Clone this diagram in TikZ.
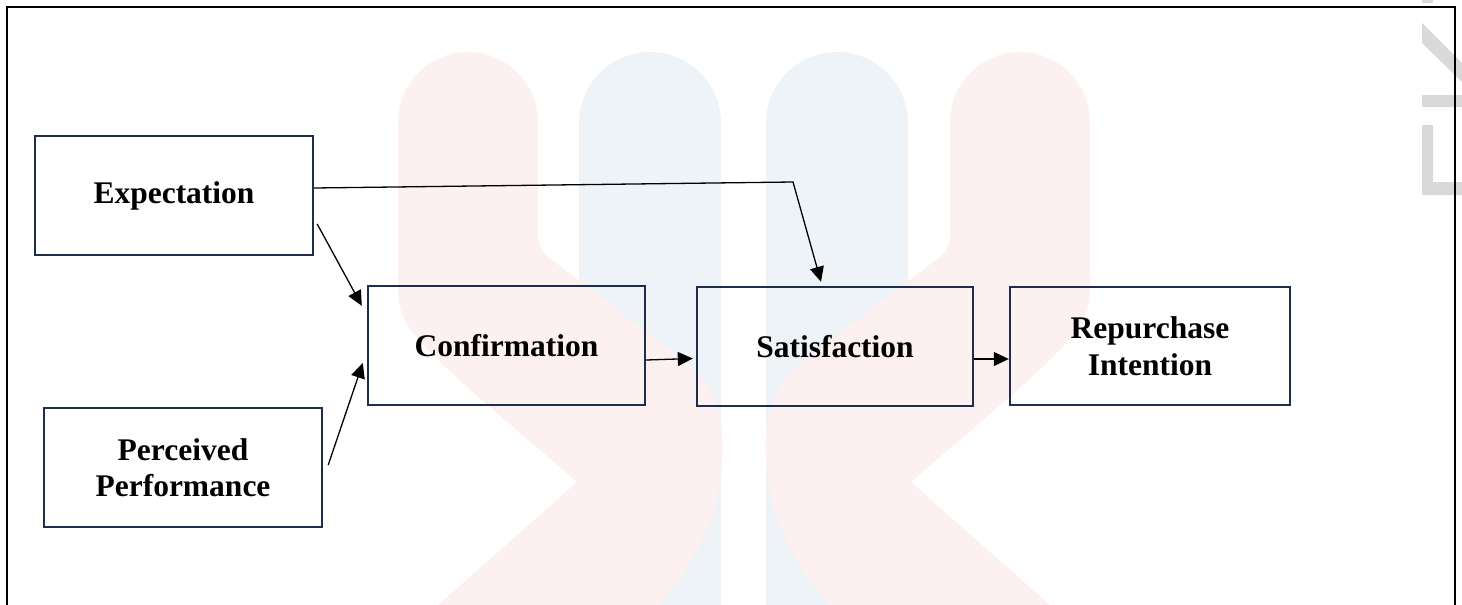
\documentclass[tikz,border=0pt]{standalone}
\usepackage{fontspec}
\setmainfont{Liberation Serif}
\usetikzlibrary{arrows.meta,calc}
\definecolor{navy}{RGB}{30,45,75}
\definecolor{wmred}{RGB}{253,240,240}
\definecolor{wmblue}{RGB}{238,243,248}
\definecolor{wmgray}{RGB}{217,217,217}
\begin{document}
\begin{tikzpicture}[x=1pt,y=-1pt,
  box/.style={draw=navy,line width=2.4pt,inner sep=0pt,align=center,
    minimum width=278pt,minimum height=119pt,
    font=\fontsize{31.5}{36.5}\selectfont\bfseries},
  arr/.style={line width=1.3pt,-{Triangle[length=15pt,width=14pt]}}]
\useasboundingbox (0,0) rectangle (1462,605);
% watermark: blue pillars
\fill[wmblue] (579,123) .. controls (579,83.8) and (610.8,52) .. (650,52)
  .. controls (689.2,52) and (721,83.8) .. (721,123) -- (721,605) -- (579,605) -- cycle;
\fill[wmblue] (766,123) .. controls (766,83.8) and (797.8,52) .. (837,52)
  .. controls (876.2,52) and (908,83.8) .. (908,123) -- (908,605) -- (766,605) -- cycle;
% watermark: red chevrons
\fill[wmred] (398,122) .. controls (398,83.3) and (429.3,52) .. (468,52)
  .. controls (506.7,52) and (538,83.3) .. (538,122)
  -- (538,235) .. controls (538,252) and (548,257) .. (560,266)
  -- (690,365) .. controls (715,385) and (725,420) .. (722,460)
  .. controls (720,520) and (690,570) .. (658,605)
  -- (438,605) -- (577,482) -- (470,390)
  .. controls (410,335) and (398,320) .. (398,290) -- cycle;
\fill[wmred] (1090,122) .. controls (1090,83.3) and (1058.7,52) .. (1020,52)
  .. controls (981.3,52) and (950,83.3) .. (950,122)
  -- (950,235) .. controls (950,252) and (940,257) .. (928,266)
  -- (798,365) .. controls (773,385) and (763,420) .. (766,460)
  .. controls (768,520) and (798,570) .. (830,605)
  -- (1050,605) -- (911,482) -- (1018,390)
  .. controls (1078,335) and (1090,320) .. (1090,290) -- cycle;
% gray letters at right edge
\fill[wmgray] (1422,0) rectangle (1433,3);
\fill[wmgray] (1422,23) -- (1462,63) -- (1462,82) -- (1422,43) -- cycle;
\fill[wmgray] (1422,95) rectangle (1462,107);
\fill[wmgray] (1422,125) -- (1433,125) -- (1433,182) -- (1462,182) -- (1462,195) -- (1422,195) -- cycle;
% frame
\draw[line width=2.6pt] (7,605) -- (7,7) -- (1455,7) -- (1455,605);
% boxes
\node[box] (exp) at (174,195.5) {Expectation};
\node[box] (perc) at (183,467.5) {Perceived\\Performance};
\node[box,minimum width=277pt] (conf) at (506.5,345.5) {Confirmation};
\node[box,minimum width=276pt] (sat) at (835,346.5) {Satisfaction};
\node[box,minimum width=280pt,minimum height=118pt] (rep) at (1150,346) {Repurchase\\Intention};
\coordinate (bend) at (793,182);
% connectors
\draw[arr] ([shift={(3,28.5)}]exp.east) -- ([shift={(-5,21)}]conf.north west);
\draw[arr] ([shift={(5,-2.5)}]perc.east) -- ([shift={(-4,17.5)}]conf.west);
\draw[arr] ([shift={(0,-7.5)}]exp.east) -- (bend) -- ([shift={(-14,-4)}]sat.north);
\draw[arr] ([shift={(0,14.5)}]conf.east) -- ([shift={(-3,12)}]sat.west);
\draw[arr] ([shift={(0,12.5)}]sat.east) -- ([shift={(0,13)}]rep.west);
\end{tikzpicture}
\end{document}
